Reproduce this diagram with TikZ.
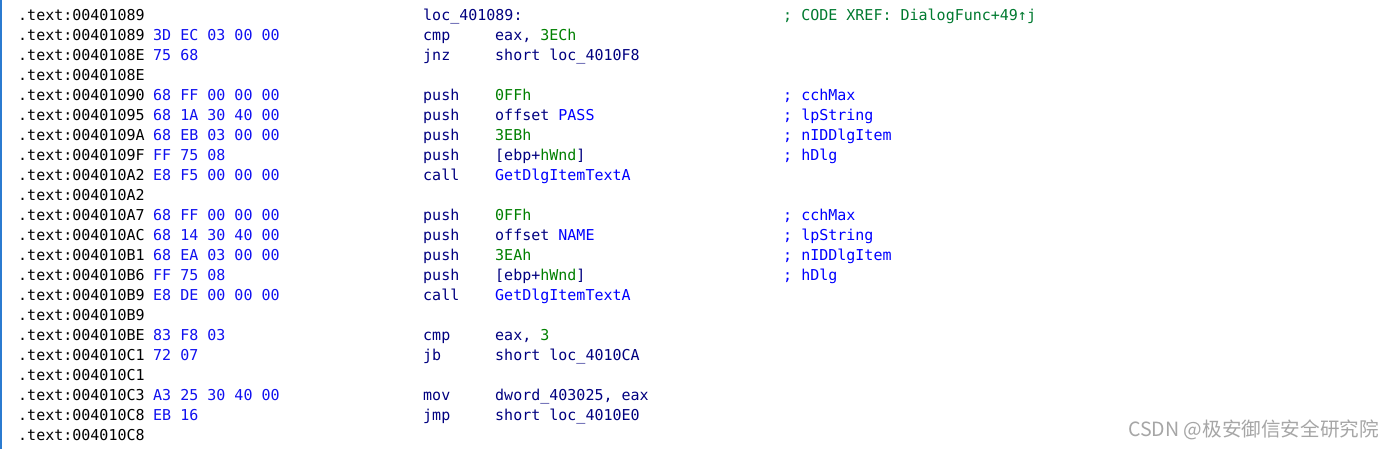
\documentclass[tikz,border=0pt]{standalone}
\usepackage{fontspec}
\setmonofont{DejaVu Sans Mono}
\newfontfamily\cjkfont{Noto Sans CJK SC}
\definecolor{navyc}{HTML}{000080}
\definecolor{bluec}{HTML}{0000FF}
\definecolor{bytec}{HTML}{1010F0}
\definecolor{numc}{HTML}{008000}
\definecolor{xrefc}{HTML}{007A30}
\definecolor{addrc}{HTML}{000000}
\definecolor{barc}{HTML}{2B7BD0}
\definecolor{wmc}{HTML}{A6A6A6}
\newcommand\codefont{\fontsize{15}{18}\selectfont\ttfamily}
\newcommand\nm[1]{\textcolor{numc}{#1}}
\newcommand\lb[1]{\textcolor{bluec}{#1}}
\tikzset{
  code/.style={anchor=base west, inner sep=0pt, font=\codefont},
  addr/.style={code, text=addrc},
  bytes/.style={code, text=bytec},
  mnem/.style={code, text=navyc},
  opnd/.style={code, text=navyc},
  cmt/.style={code, text=bluec},
  xcmt/.style={code, text=xrefc},
}
\begin{document}
\begin{tikzpicture}[x=1pt,y=1pt]
\useasboundingbox (0,0) rectangle (1394,449);
\fill[white] (0,0) rectangle (1394,449);
\fill[barc] (0,0) rectangle (2,449);
\begin{scope}[yshift=-2pt]
% row 0
\node[addr] (a0) at (18,430) {.text:00401089};
\node[mnem] (m0) at (423,430) {loc\_401089:};
\node[xcmt] (c0) at (783,430) {; CODE XREF: DialogFunc+49↑j};
% row 1
\node[addr] (a1) at (18,410) {.text:00401089};
\node[bytes] (b1) at (153,410) {3D EC 03 00 00};
\node[mnem] (m1) at (423,410) {cmp};
\node[opnd] (o1) at (495,410) {eax, \nm{3ECh}};
% row 2
\node[addr] (a2) at (18,390) {.text:0040108E};
\node[bytes] (b2) at (153,390) {75 68};
\node[mnem] (m2) at (423,390) {jnz};
\node[opnd] (o2) at (495,390) {short loc\_4010F8};
% row 3
\node[addr] (a3) at (18,370) {.text:0040108E};
% row 4
\node[addr] (a4) at (18,350) {.text:00401090};
\node[bytes] (b4) at (153,350) {68 FF 00 00 00};
\node[mnem] (m4) at (423,350) {push};
\node[opnd] (o4) at (495,350) {\nm{0FFh}};
\node[cmt] (c4) at (783,350) {; cchMax};
% row 5
\node[addr] (a5) at (18,330) {.text:00401095};
\node[bytes] (b5) at (153,330) {68 1A 30 40 00};
\node[mnem] (m5) at (423,330) {push};
\node[opnd] (o5) at (495,330) {offset \lb{PASS}};
\node[cmt] (c5) at (783,330) {; lpString};
% row 6
\node[addr] (a6) at (18,310) {.text:0040109A};
\node[bytes] (b6) at (153,310) {68 EB 03 00 00};
\node[mnem] (m6) at (423,310) {push};
\node[opnd] (o6) at (495,310) {\nm{3EBh}};
\node[cmt] (c6) at (783,310) {; nIDDlgItem};
% row 7
\node[addr] (a7) at (18,290) {.text:0040109F};
\node[bytes] (b7) at (153,290) {FF 75 08};
\node[mnem] (m7) at (423,290) {push};
\node[opnd] (o7) at (495,290) {[ebp+\nm{hWnd}]};
\node[cmt] (c7) at (783,290) {; hDlg};
% row 8
\node[addr] (a8) at (18,270) {.text:004010A2};
\node[bytes] (b8) at (153,270) {E8 F5 00 00 00};
\node[mnem] (m8) at (423,270) {call};
\node[opnd] (o8) at (495,270) {\lb{GetDlgItemTextA}};
% row 9
\node[addr] (a9) at (18,250) {.text:004010A2};
% row 10
\node[addr] (a10) at (18,230) {.text:004010A7};
\node[bytes] (b10) at (153,230) {68 FF 00 00 00};
\node[mnem] (m10) at (423,230) {push};
\node[opnd] (o10) at (495,230) {\nm{0FFh}};
\node[cmt] (c10) at (783,230) {; cchMax};
% row 11
\node[addr] (a11) at (18,210) {.text:004010AC};
\node[bytes] (b11) at (153,210) {68 14 30 40 00};
\node[mnem] (m11) at (423,210) {push};
\node[opnd] (o11) at (495,210) {offset \lb{NAME}};
\node[cmt] (c11) at (783,210) {; lpString};
% row 12
\node[addr] (a12) at (18,190) {.text:004010B1};
\node[bytes] (b12) at (153,190) {68 EA 03 00 00};
\node[mnem] (m12) at (423,190) {push};
\node[opnd] (o12) at (495,190) {\nm{3EAh}};
\node[cmt] (c12) at (783,190) {; nIDDlgItem};
% row 13
\node[addr] (a13) at (18,170) {.text:004010B6};
\node[bytes] (b13) at (153,170) {FF 75 08};
\node[mnem] (m13) at (423,170) {push};
\node[opnd] (o13) at (495,170) {[ebp+\nm{hWnd}]};
\node[cmt] (c13) at (783,170) {; hDlg};
% row 14
\node[addr] (a14) at (18,150) {.text:004010B9};
\node[bytes] (b14) at (153,150) {E8 DE 00 00 00};
\node[mnem] (m14) at (423,150) {call};
\node[opnd] (o14) at (495,150) {\lb{GetDlgItemTextA}};
% row 15
\node[addr] (a15) at (18,130) {.text:004010B9};
% row 16
\node[addr] (a16) at (18,110) {.text:004010BE};
\node[bytes] (b16) at (153,110) {83 F8 03};
\node[mnem] (m16) at (423,110) {cmp};
\node[opnd] (o16) at (495,110) {eax, \nm{3}};
% row 17
\node[addr] (a17) at (18,90) {.text:004010C1};
\node[bytes] (b17) at (153,90) {72 07};
\node[mnem] (m17) at (423,90) {jb};
\node[opnd] (o17) at (495,90) {short loc\_4010CA};
% row 18
\node[addr] (a18) at (18,70) {.text:004010C1};
% row 19
\node[addr] (a19) at (18,50) {.text:004010C3};
\node[bytes] (b19) at (153,50) {A3 25 30 40 00};
\node[mnem] (m19) at (423,50) {mov};
\node[opnd] (o19) at (495,50) {dword\_403025, eax};
% row 20
\node[addr] (a20) at (18,30) {.text:004010C8};
\node[bytes] (b20) at (153,30) {EB 16};
\node[mnem] (m20) at (423,30) {jmp};
\node[opnd] (o20) at (495,30) {short loc\_4010E0};
% row 21
\node[addr] (a21) at (18,10) {.text:004010C8};
\end{scope}
% watermark
\node[anchor=base west, inner sep=0pt, text=wmc, font=\cjkfont\fontsize{19.6}{22}\selectfont] (wm) at (1128,12) {CSDN @极安御信安全研究院};
\end{tikzpicture}
\end{document}
